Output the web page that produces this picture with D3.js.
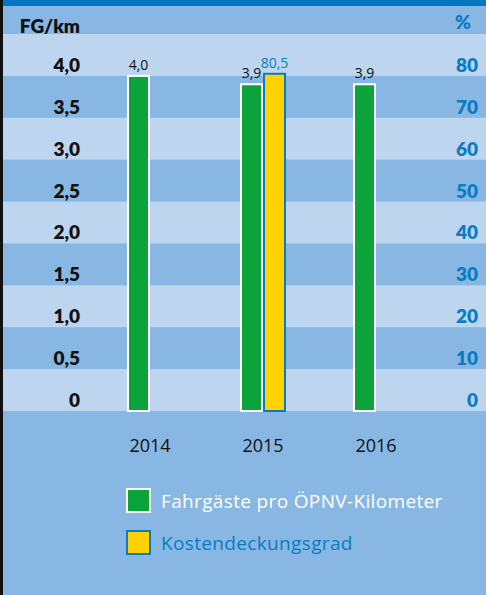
<!DOCTYPE html>
<html>
<head>
<meta charset="utf-8">
<script src="https://cdn.jsdelivr.net/npm/d3@7"></script>
<style>
  html, body { margin: 0; padding: 0; background: #87b7e2; }
  svg { display: block; }
</style>
</head>
<body>
<svg id="chart" width="486" height="595"></svg>
<script>
// Chart data
const years = ["2014", "2015", "2016"];
const passengersPerKm = [4.0, 3.9, 3.9];          // Fahrgäste pro ÖPNV-Kilometer
const costCoverage = [null, 80.5, null];          // Kostendeckungsgrad in %
const leftTicks = [0, 0.5, 1.0, 1.5, 2.0, 2.5, 3.0, 3.5, 4.0];
const rightTicks = [0, 10, 20, 30, 40, 50, 60, 70, 80];
const seriesNames = ["Fahrgäste pro ÖPNV-Kilometer", "Kostendeckungsgrad"];

const W = 486, H = 595;
const C = {
  bgDark: "#87b7e2",
  bgLight: "#bdd5ef",
  blue: "#0a7cc4",
  topBar: "#0077c0",
  green: "#0ca43a",
  yellow: "#ffd200",
  text: "#111111"
};
const BOLD_FONT = "Lato, sans-serif";
const TEXT_FONT = "'Open Sans', sans-serif";

const svg = d3.select("#chart");
const comma = v => String(v).replace(".", ",");
const fmtLeft = v => v === 0 ? "0" : comma(d3.format(".1f")(v));

const yL = d3.scaleLinear().domain([0, 4.5]).range([411, 34]);
const yR = d3.scaleLinear().domain([0, 90]).range([411, 34]);
const x = d3.scaleBand().domain(years).range([127, 399]).paddingInner(0.593).paddingOuter(0);
const xs = d3.scaleBand().domain(["fg", "kdg"]).range([0, x.bandwidth()]).padding(0);

// background
svg.append("rect").attr("width", W).attr("height", H).attr("fill", C.bgDark);

// alternating horizontal bands: light from each whole value up to the next half step
const bandStarts = [0, 1, 2, 3, 4];
svg.append("g").selectAll("rect").data(bandStarts).join("rect")
  .attr("x", 0).attr("width", W)
  .attr("y", d => yL(d + 0.5))
  .attr("height", d => yL(d) - yL(d + 0.5))
  .attr("fill", C.bgLight);

// top strip and left border
svg.append("rect").attr("x", 0).attr("y", 0).attr("width", W).attr("height", 6).attr("fill", C.topBar);
svg.append("rect").attr("x", 0).attr("y", 0).attr("width", 3).attr("height", H).attr("fill", "#111");

// left axis
const leftAxis = d3.axisLeft(yL).tickValues(leftTicks).tickFormat(fmtLeft).tickSize(0).tickPadding(0);
const gL = svg.append("g").attr("transform", "translate(80,0)").call(leftAxis);
gL.select(".domain").remove();
gL.selectAll("text")
  .attr("dy", null).attr("y", -4.5)
  .attr("fill", C.text).attr("font-size", 19).attr("font-weight", 800)
  .style("font-family", BOLD_FONT);

// right axis
const rightAxis = d3.axisRight(yR).tickValues(rightTicks).tickSize(0).tickPadding(0);
const gR = svg.append("g").attr("transform", "translate(478,0)").call(rightAxis);
gR.select(".domain").remove();
gR.selectAll("text")
  .attr("dy", null).attr("y", -4.5).attr("text-anchor", "end")
  .attr("fill", C.blue).attr("font-size", 19).attr("font-weight", 800)
  .style("font-family", BOLD_FONT);

// axis titles
svg.append("text").attr("x", 80).attr("y", 33).attr("text-anchor", "end")
  .attr("font-size", 19).attr("font-weight", 800).attr("fill", C.text)
  .style("font-family", BOLD_FONT).text("FG/km");
svg.append("text").attr("x", 471).attr("y", 29).attr("text-anchor", "end")
  .attr("font-size", 19).attr("font-weight", 800).attr("fill", C.blue)
  .style("font-family", BOLD_FONT).text("%");

// bars
const groups = svg.append("g").selectAll("g").data(years).join("g")
  .attr("transform", d => `translate(${x(d)},0)`);

groups.append("rect")
  .attr("x", xs("fg") + 1).attr("width", xs.bandwidth() - 2)
  .attr("y", (d, i) => yL(passengersPerKm[i]))
  .attr("height", (d, i) => yL(0) - yL(passengersPerKm[i]))
  .attr("fill", C.green).attr("stroke", "#fff").attr("stroke-width", 2);

groups.filter((d, i) => costCoverage[i] != null).append("rect")
  .attr("x", xs("kdg") + 1).attr("width", xs.bandwidth() - 2)
  .attr("y", d => yR(costCoverage[years.indexOf(d)]))
  .attr("height", d => yR(0) - yR(costCoverage[years.indexOf(d)]))
  .attr("fill", C.yellow).attr("stroke", C.blue).attr("stroke-width", 2);

// value labels
groups.append("text")
  .attr("x", xs("fg") + xs.bandwidth() / 2)
  .attr("y", (d, i) => yL(passengersPerKm[i]) - 6)
  .attr("text-anchor", "middle").attr("font-size", 14).attr("fill", C.text)
  .style("font-family", TEXT_FONT)
  .text((d, i) => comma(d3.format(".1f")(passengersPerKm[i])));

groups.filter((d, i) => costCoverage[i] != null).append("text")
  .attr("x", xs("kdg") + xs.bandwidth() / 2)
  .attr("y", d => yR(costCoverage[years.indexOf(d)]) - 6)
  .attr("text-anchor", "middle").attr("font-size", 14).attr("fill", C.blue)
  .style("font-family", TEXT_FONT)
  .text(d => comma(d3.format(".1f")(costCoverage[years.indexOf(d)])));

// x axis labels
const xAxis = d3.axisBottom(x).tickSize(0).tickPadding(0);
const gX = svg.append("g").attr("transform", "translate(0,452)").call(xAxis);
gX.select(".domain").remove();
gX.selectAll("text")
  .attr("dy", null).attr("y", 0)
  .attr("fill", C.text).attr("font-size", 18)
  .style("font-family", TEXT_FONT);

// legend
const legend = svg.append("g").attr("transform", "translate(127,489)");
const legendItems = [
  { name: seriesNames[0], fill: C.green, stroke: "#fff", color: "#fff" },
  { name: seriesNames[1], fill: C.yellow, stroke: C.blue, color: C.blue }
];
const li = legend.selectAll("g").data(legendItems).join("g")
  .attr("transform", (d, i) => `translate(0,${i * 42})`);
li.append("rect").attr("x", 0).attr("y", 0).attr("width", 23).attr("height", 23)
  .attr("fill", d => d.fill).attr("stroke", d => d.stroke).attr("stroke-width", 2);
li.append("text").attr("x", 34).attr("y", 19)
  .attr("font-size", 19).attr("letter-spacing", 0.35).style("font-family", TEXT_FONT)
  .attr("fill", d => d.color).text(d => d.name);
</script>
</body>
</html>
